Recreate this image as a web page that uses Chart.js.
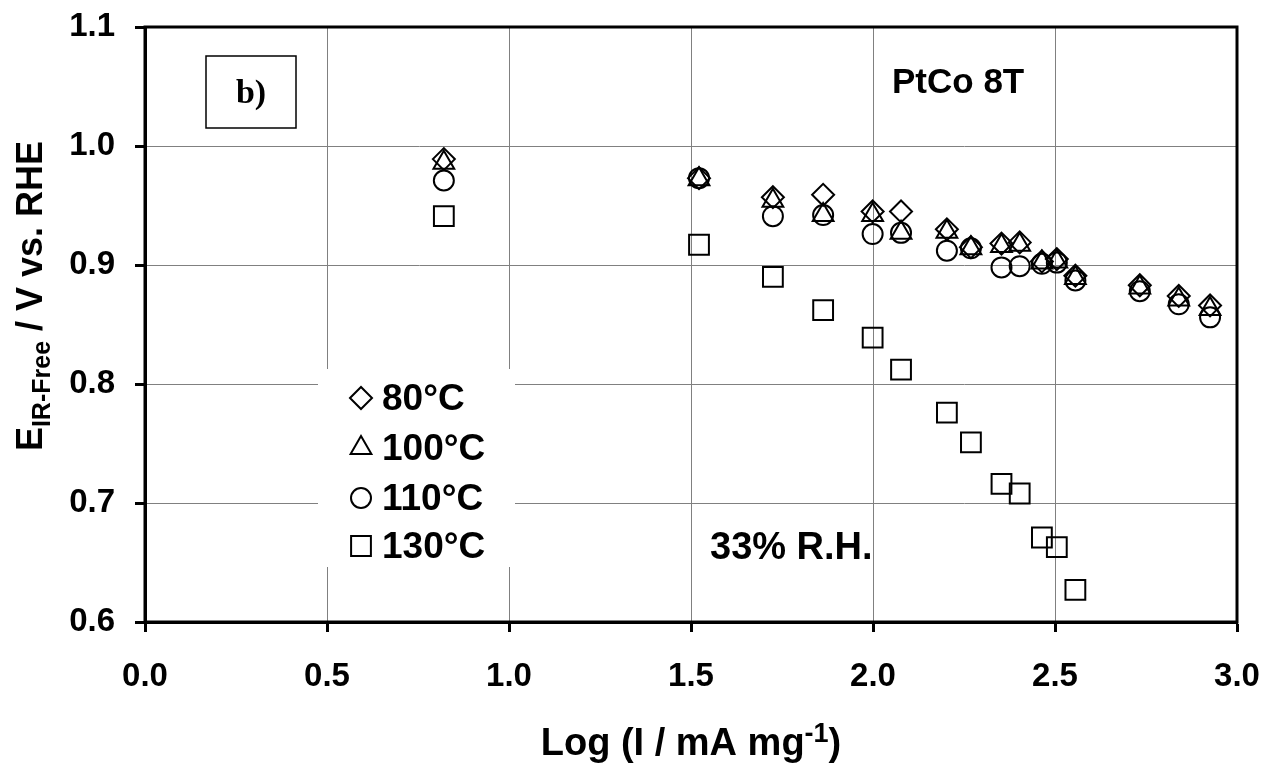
<!DOCTYPE html>
<html>
<head>
<meta charset="utf-8">
<script src="https://cdn.jsdelivr.net/npm/chart.js@4/dist/chart.umd.min.js"></script>
<style>
	html, body { margin: 0; padding: 0; background: #fff; }
	#wrap { width: 1263px; height: 764px; position: relative; }
</style>
</head>
<body>
<div id="wrap"><canvas id="polCurve"></canvas></div>
<script>
// log of mass-specific current, shared by every temperature
const logCurrent = [0.821, 1.522, 1.725, 1.863, 1.999, 2.077, 2.203, 2.269, 2.353, 2.403, 2.464, 2.505, 2.556, 2.733, 2.840, 2.926];

// IR-free potential (V vs. RHE) per cell temperature
const e80 = [0.989, 0.973, 0.957, 0.959, 0.945, 0.945, 0.930, 0.915, 0.918, 0.919, 0.903, 0.905, 0.891, 0.883, 0.874, 0.866];
const e100 = [0.986, 0.972, 0.954, 0.942, 0.942, 0.927, 0.928, 0.914, 0.916, 0.917, 0.902, 0.903, 0.889, 0.881, 0.871, 0.863];
const e110 = [0.971, 0.973, 0.941, 0.942, 0.926, 0.927, 0.912, 0.914, 0.898, 0.899, 0.901, 0.902, 0.887, 0.878, 0.867, 0.856];
const e130 = [0.941, 0.917, 0.890, 0.862, 0.839, 0.812, 0.776, 0.751, 0.716, 0.708, 0.671, 0.663, 0.627];

const seriesLabels = ['80°C', '100°C', '110°C', '130°C'];
const seriesMarkers = ['rectRot', 'triangle', 'circle', 'rect'];
const markerRadius = { rectRot: 11, triangle: 12, circle: 10, rect: 14 };

const xTicks = [0, 0.5, 1.0, 1.5, 2.0, 2.5, 3.0];
const yTicks = [0.6, 0.7, 0.8, 0.9, 1.0, 1.1];

const SANS = '"Liberation Sans", Arial, sans-serif';
const SERIF = '"Liberation Serif", "Times New Roman", serif';

const toPoints = (values) => values.map((y, i) => ({ x: logCurrent[i], y }));

const datasets = [e80, e100, e110, e130].map((values, i) => ({
	label: seriesLabels[i],
	data: toPoints(values),
	pointStyle: seriesMarkers[i],
	pointRadius: markerRadius[seriesMarkers[i]],
	pointHoverRadius: markerRadius[seriesMarkers[i]],
	borderColor: '#000',
	backgroundColor: 'rgba(0,0,0,0)',
	pointBorderWidth: 2,
	showLine: false,
}));

// small marker painter for the in-plot legend
const drawMarker = (ctx, style, x, y) => {
	const r = markerRadius[style];
	ctx.beginPath();
	if (style === 'rectRot') {
		ctx.moveTo(x - r, y); ctx.lineTo(x, y - r); ctx.lineTo(x + r, y); ctx.lineTo(x, y + r);
		ctx.closePath();
	} else if (style === 'triangle') {
		const w = r * Math.sin(Math.PI / 3);
		ctx.moveTo(x, y - r); ctx.lineTo(x + w, y + r / 2); ctx.lineTo(x - w, y + r / 2);
		ctx.closePath();
	} else if (style === 'circle') {
		ctx.arc(x, y, r, 0, Math.PI * 2);
	} else {
		const s = r * Math.SQRT1_2;
		ctx.rect(x - s, y - s, 2 * s, 2 * s);
	}
	ctx.stroke();
};

const decorations = {
	id: 'decorations',
	beforeDatasetsDraw(chart) {
		const { ctx, chartArea: a } = chart;
		// legend panel hides the grid behind it
		ctx.save();
		ctx.fillStyle = '#fff';
		ctx.fillRect(a.left + 173, a.top + 342, 197, 198);
		ctx.restore();
	},
	afterDraw(chart) {
		const { ctx, chartArea: a } = chart;
		ctx.save();

		// plot frame
		ctx.strokeStyle = '#000';
		ctx.lineWidth = 3;
		ctx.strokeRect(a.left, a.top, a.right - a.left, a.bottom - a.top);

		// panel tag
		ctx.lineWidth = 1.5;
		ctx.strokeRect(a.left + 61, a.top + 29, 90, 72);
		ctx.fillStyle = '#000';
		ctx.font = 'bold 34px ' + SERIF;
		ctx.textAlign = 'center';
		ctx.textBaseline = 'alphabetic';
		ctx.fillText('b)', a.left + 106, a.top + 76);

		// annotations
		ctx.textAlign = 'left';
		ctx.font = 'bold 35px ' + SANS;
		ctx.fillText('PtCo 8T', 892, 93);
		ctx.font = 'bold 38px ' + SANS;
		ctx.fillText('33% R.H.', 710, 559);

		// legend
		ctx.lineWidth = 2;
		ctx.font = 'bold 37px ' + SANS;
		const rowY = [398, 448, 498, 546];
		chart.data.datasets.forEach((ds, i) => {
			drawMarker(ctx, ds.pointStyle, a.left + 216, rowY[i]);
			ctx.fillText(ds.label, a.left + 237, rowY[i] + 12);
		});

		// x title with superscript
		const xParts = [['Log (I / mA mg', 38, 0], ['-1', 27, -13], [')', 38, 0]];
		let total = 0;
		xParts.forEach(([t, s]) => { ctx.font = `bold ${s}px ${SANS}`; total += ctx.measureText(t).width; });
		let cx = (a.left + a.right) / 2 - total / 2;
		xParts.forEach(([t, s, dy]) => {
			ctx.font = `bold ${s}px ${SANS}`;
			ctx.fillText(t, cx, 755 + dy);
			cx += ctx.measureText(t).width;
		});

		// y title with subscript, rotated
		const yParts = [['E', 36, 0], ['IR-Free', 25, 8], [' / V vs. RHE', 36, 0]];
		total = 0;
		yParts.forEach(([t, s]) => { ctx.font = `bold ${s}px ${SANS}`; total += ctx.measureText(t).width; });
		ctx.translate(42, 296);
		ctx.rotate(-Math.PI / 2);
		cx = -total / 2;
		yParts.forEach(([t, s, dy]) => {
			ctx.font = `bold ${s}px ${SANS}`;
			ctx.fillText(t, cx, dy);
			cx += ctx.measureText(t).width;
		});
		ctx.restore();
	},
};

new Chart(document.getElementById('polCurve'), {
	type: 'scatter',
	data: { datasets },
	options: {
		responsive: true,
		maintainAspectRatio: false,
		animation: false,
		events: [],
		layout: { padding: { top: 27, right: 26, left: 0, bottom: 0 } },
		plugins: { legend: { display: false }, tooltip: { enabled: false } },
		scales: {
			x: {
				type: 'linear',
				min: xTicks[0],
				max: xTicks[xTicks.length - 1],
				afterBuildTicks: (scale) => { scale.ticks = xTicks.map((value) => ({ value })); },
				afterFit: (scale) => {
					scale.height = 142;
					scale.paddingLeft = 0;
					scale.paddingRight = 0;
				},
				ticks: {
					color: '#000',
					font: { family: SANS, size: 33, weight: 'bold' },
					padding: 25,
					maxRotation: 0,
					callback: (v) => Number(v).toFixed(1),
				},
				grid: { color: '#808080', lineWidth: 1, tickColor: '#000', tickLength: 10, tickWidth: 3 },
				border: { color: '#000', width: 3 },
			},
			y: {
				type: 'linear',
				min: yTicks[0],
				max: yTicks[yTicks.length - 1],
				afterBuildTicks: (scale) => { scale.ticks = yTicks.map((value) => ({ value })); },
				afterFit: (scale) => {
					scale.width = 145;
					scale.paddingTop = 0;
					scale.paddingBottom = 0;
				},
				ticks: {
					color: '#000',
					font: { family: SANS, size: 33, weight: 'bold' },
					padding: 20,
					callback: (v) => Number(v).toFixed(1),
				},
				grid: { color: '#808080', lineWidth: 1, tickColor: '#000', tickLength: 10, tickWidth: 3 },
				border: { color: '#000', width: 3 },
			},
		},
	},
	plugins: [decorations],
});
</script>
</body>
</html>
